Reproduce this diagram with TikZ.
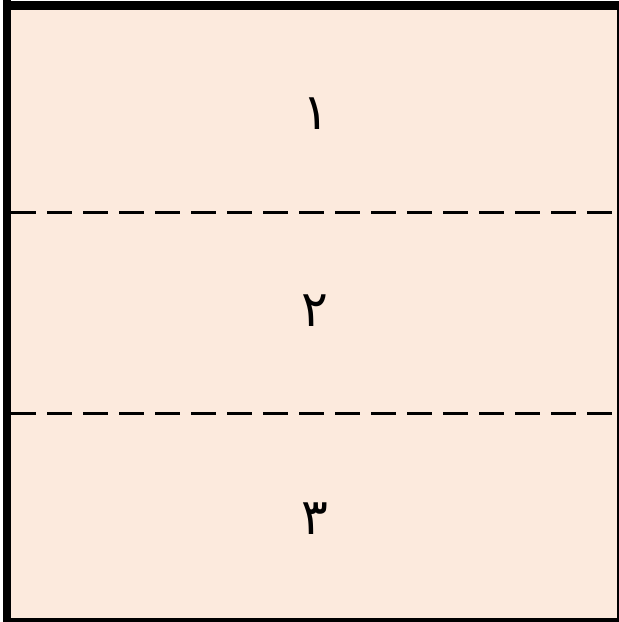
\documentclass[tikz,border=0pt]{standalone}
\usepackage{fontspec}
\TeXXeTstate=1
\newfontfamily\arabicfont[Script=Arabic]{DejaVu Sans}
\definecolor{peach}{RGB}{252,234,221}
\tikzset{
  frameline/.style={line width=#1, black},
  divider/.style={line width=3pt, black, dash pattern=on 25pt off 11pt},
  digit/.style={font=\arabicfont\fontsize{50}{56}\selectfont, inner sep=0pt, anchor=center}
}
\begin{document}
\begin{tikzpicture}[x=1pt,y=-1pt]
\useasboundingbox (0,0) rectangle (619,622);
\fill[white] (0,0) rectangle (619,622);
\fill[peach] (7,6) rectangle (618,620);
% frame
\draw[frameline=8pt] (7,0) -- (7,622);
\draw[frameline=9pt] (3,5) -- (619,5);
\draw[frameline=2pt] (618,5) -- (618,622);
\draw[frameline=4pt] (3,620) -- (619,620);
% dividers
\coordinate (d1l) at (11,212); \coordinate (d1r) at (619,212);
\coordinate (d2l) at (11,413); \coordinate (d2r) at (619,413);
\draw[divider] (d1l) -- (d1r);
\draw[divider] (d2l) -- (d2r);
% digits
\node[digit] (n1) at (316,114) {\beginR ١\endR};
\node[digit] (n2) at (315,311) {\beginR ٢\endR};
\node[digit] (n3) at (315,519) {\beginR ٣\endR};
\end{tikzpicture}
\end{document}
